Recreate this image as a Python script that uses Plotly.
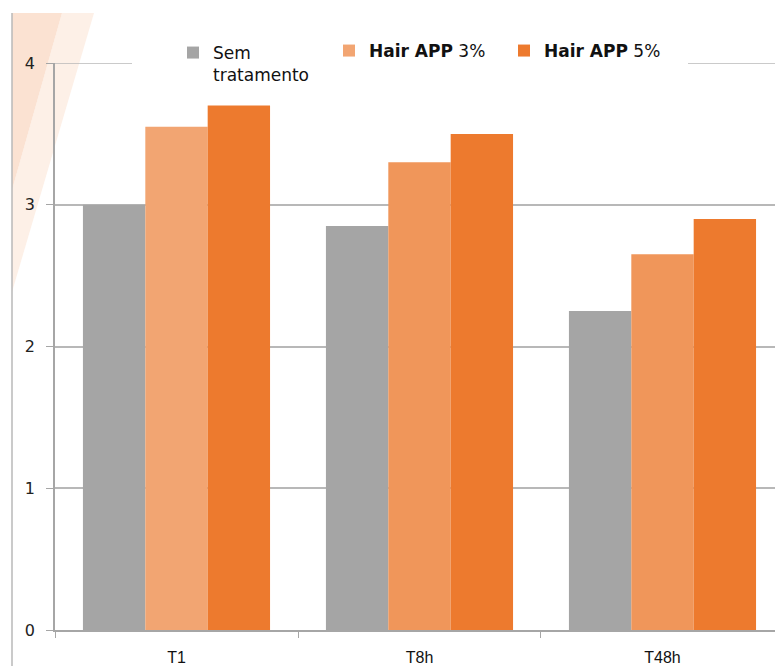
import plotly.graph_objects as go

categories = ["T1", "T8h", "T48h"]
sem_tratamento = [3.0, 2.85, 2.25]
hair_app_3 = [3.55, 3.3, 2.65]
hair_app_5 = [3.7, 3.5, 2.9]
y_ticks = [0, 1, 2, 3, 4]

W, H = 775, 666
L, R, T, B = 55, 0, 63, 36
pw, ph = W - L - R, H - T - B

def px(x):
    return (x - L) / pw

def py(y):
    return (H - B - y) / ph

fig = go.Figure()
fig.add_trace(go.Bar(x=categories, y=sem_tratamento, name="Sem<br>tratamento",
                     marker=dict(color="#A5A5A5", line=dict(width=0)), legend="legend"))
fig.add_trace(go.Bar(x=categories, y=hair_app_3, name="<b>Hair APP</b> 3%",
                     marker=dict(color=["#F2A572", "#F0965A", "#F0965A"], line=dict(width=0)),
                     legend="legend2"))
fig.add_trace(go.Bar(x=categories, y=hair_app_5, name="<b>Hair APP</b> 5%",
                     marker=dict(color="#ED7A2E", line=dict(width=0)), legend="legend3"))

grey = "#B8B8B8"
shapes = [
    dict(type="path", xref="paper", yref="paper", layer="below",
         path=f"M {px(62)} {py(13)} L {px(94)} {py(13)} L {px(12)} {py(292)} L {px(12)} {py(190)} Z",
         fillcolor="#FDF0E7", line=dict(width=0)),
    dict(type="path", xref="paper", yref="paper", layer="below",
         path=f"M {px(12)} {py(13)} L {px(62)} {py(13)} L {px(12)} {py(190)} Z",
         fillcolor="#FBE2D2", line=dict(width=0)),
    dict(type="line", xref="paper", yref="paper", layer="below",
         x0=px(12), x1=px(12), y0=py(13), y1=py(666),
         line=dict(color=grey, width=1.5)),
    dict(type="line", xref="paper", yref="y", layer="below",
         x0=0, x1=px(132), y0=y_ticks[-1], y1=y_ticks[-1], line=dict(color=grey, width=1.5)),
    dict(type="line", xref="paper", yref="y", layer="below",
         x0=px(688), x1=1, y0=y_ticks[-1], y1=y_ticks[-1], line=dict(color=grey, width=1.5)),
]

leg_common = dict(orientation="v", xanchor="left", yanchor="top", bgcolor="rgba(0,0,0,0)",
                  font=dict(family="DejaVu Sans", size=17, color="#111111"),
                  valign="top", itemwidth=30)

fig.update_layout(
    width=W, height=H,
    margin=dict(l=L, r=R, t=T, b=B, autoexpand=False),
    paper_bgcolor="white", plot_bgcolor="white",
    barmode="group", bargap=0.23, bargroupgap=0,
    shapes=shapes,
    showlegend=True,
    legend=dict(x=px(173), y=py(35), **leg_common),
    legend2=dict(x=px(329), y=py(33), **leg_common),
    legend3=dict(x=px(504), y=py(33), **leg_common),
    xaxis=dict(range=[-0.5, 2.463], showgrid=False, showline=True, linecolor="#A6A6A6", linewidth=1.5,
               ticks="outside", tickson="boundaries", ticklen=6, tickcolor="#A6A6A6",
               ticklabelstandoff=12, automargin=False,
               tickfont=dict(family="Liberation Sans", size=16, color="#111111")),
    yaxis=dict(range=[0, 4], tickvals=y_ticks, showgrid=True, gridcolor=grey, gridwidth=1.5,
               showline=True, linecolor="#A6A6A6", linewidth=1.5, zeroline=False,
               ticks="outside", ticklen=7, tickcolor="#A6A6A6", ticklabelstandoff=8,
               automargin=False,
               tickfont=dict(family="DejaVu Sans", size=16, color="#222222")),
)

fig.write_html("out.html", config={"displayModeBar": False},
               post_script="document.body.style.margin='0px';document.body.style.overflow='hidden';")
